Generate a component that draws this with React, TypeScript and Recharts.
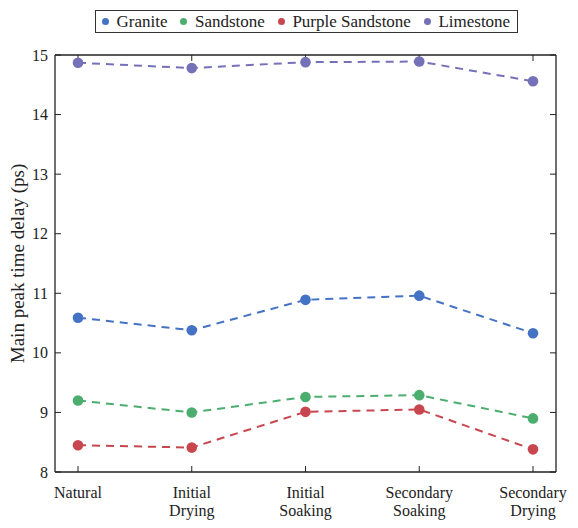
import React from 'react';
import { LineChart, Line, XAxis, YAxis, Legend } from 'recharts';

// stages of the drying / soaking cycle
const stages = ['Natural', 'Initial Drying', 'Initial Soaking', 'Secondary Soaking', 'Secondary Drying'];

// main peak time delay (ps) per rock type
const granite = [10.59, 10.38, 10.89, 10.96, 10.33];
const sandstone = [9.2, 9.0, 9.26, 9.29, 8.9];
const purpleSandstone = [8.45, 8.41, 9.01, 9.05, 8.38];
const limestone = [14.87, 14.78, 14.88, 14.89, 14.56];

const yTicks = [8, 9, 10, 11, 12, 13, 14, 15];

const series = [
  { key: 'granite', name: 'Granite', color: '#4472C4', values: granite },
  { key: 'sandstone', name: 'Sandstone', color: '#4BAE6F', values: sandstone },
  { key: 'purpleSandstone', name: 'Purple Sandstone', color: '#C8474F', values: purpleSandstone },
  { key: 'limestone', name: 'Limestone', color: '#7571B9', values: limestone },
];

const data = stages.map((stage, i) => {
  const row: Record<string, string | number> = { stage };
  series.forEach((s) => {
    row[s.key] = s.values[i];
  });
  return row;
});

const FONT = "'Liberation Serif', 'DejaVu Serif', serif";
const INK = '#222';
const textStyle = { fontFamily: FONT, fontSize: 16, fill: INK };

const StageTick = (props: any) => {
  const { x, y, payload } = props;
  const lines = String(payload.value).split(' ');
  return (
    <text x={x} y={y} textAnchor="middle" style={textStyle}>
      {lines.map((line, i) => (
        <tspan key={i} x={x} dy={18}>
          {line}
        </tspan>
      ))}
    </text>
  );
};

const ValueTick = (props: any) => {
  const { x, y, payload } = props;
  return (
    <text x={x} y={y} dy={5.5} textAnchor="end" style={textStyle}>
      {payload.value}
    </text>
  );
};

const NoTick = () => <g />;

const LegendBox = () => (
  <div
    style={{
      display: 'flex',
      alignItems: 'center',
      border: '1.5px solid #333',
      height: 21,
      padding: '0 7px 0 6px',
      fontFamily: FONT,
      fontSize: 17,
      color: INK,
      background: '#fff',
      whiteSpace: 'nowrap',
    }}
  >
    {series.map((s, i) => (
      <span key={s.key} style={{ display: 'flex', alignItems: 'center', marginLeft: i === 0 ? 0 : 13 }}>
        <span
          style={{
            width: 7,
            height: 7,
            borderRadius: '50%',
            background: s.color,
            display: 'inline-block',
            marginRight: 7.5,
          }}
        />
        {s.name}
      </span>
    ))}
  </div>
);

const axisLine = { stroke: INK, strokeWidth: 1.3 };

export default function App() {
  return (
    <div style={{ position: 'absolute', left: 0, top: 0, background: '#fff' }}>
      <LineChart width={578} height={528} data={data} margin={{ top: 54, right: 21, bottom: 55, left: 54 }}>
        <XAxis
          dataKey="stage"
          height={1}
          padding={{ left: 23, right: 23 }}
          axisLine={axisLine}
          tickLine={{ stroke: INK }}
          tickSize={-6}
          tickMargin={14}
          tick={<StageTick />}
          interval={0}
        />
        <XAxis
          xAxisId="top"
          orientation="top"
          dataKey="stage"
          height={1}
          padding={{ left: 23, right: 23 }}
          axisLine={axisLine}
          tickLine={{ stroke: INK }}
          tickSize={-6}
          tick={NoTick}
          interval={0}
        />
        <YAxis
          width={1}
          domain={[8, 15]}
          ticks={yTicks}
          allowDataOverflow
          axisLine={axisLine}
          tickLine={{ stroke: INK }}
          tickSize={-6}
          tickMargin={13}
          tick={<ValueTick />}
          label={{
            value: 'Main peak time delay (ps)',
            angle: -90,
            position: 'insideLeft',
            offset: -37,
            style: { textAnchor: 'middle', fontFamily: FONT, fontSize: 19, fill: INK },
          }}
        />
        <YAxis
          yAxisId="right"
          orientation="right"
          width={1}
          domain={[8, 15]}
          ticks={yTicks}
          allowDataOverflow
          axisLine={axisLine}
          tickLine={{ stroke: INK }}
          tickSize={-6}
          tick={NoTick}
        />
        <Legend
          layout="horizontal"
          align="center"
          verticalAlign="middle"
          content={<LegendBox />}
          wrapperStyle={{ left: 95, top: 10, width: 'auto' }}
        />
        {series.map((s) => (
          <Line
            key={s.key}
            dataKey={s.key}
            name={s.name}
            stroke={s.color}
            strokeWidth={2}
            strokeDasharray="8 6"
            dot={{ r: 5.3, fill: s.color, stroke: 'none' }}
            activeDot={false}
            isAnimationActive={false}
          />
        ))}
      </LineChart>
    </div>
  );
}
